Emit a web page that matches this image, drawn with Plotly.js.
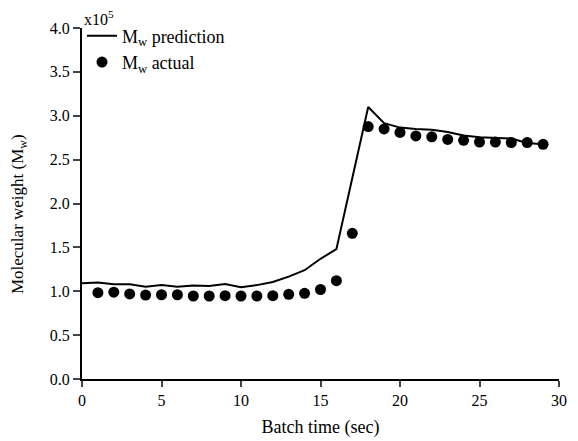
<!DOCTYPE html>
<html>
<head>
<meta charset="utf-8">
<script src="https://cdn.plot.ly/plotly-3.0.1.min.js"></script>
<style>html,body{margin:0;padding:0;background:#fff;}#chart{width:578px;height:441px;}</style>
</head>
<body>
<div id="chart"></div>
<script>
// Batch time (sec)
const predTime = [0,1,2,3,4,5,6,7,8,9,10,11,12,13,14,15,16,17,18,19,20,21,22,23,24,25,26,27,28,29];
// Mw prediction (x10^5)
const predMw = [1.09,1.10,1.08,1.08,1.05,1.07,1.05,1.065,1.06,1.083,1.045,1.07,1.105,1.167,1.24,1.37,1.48,2.28,3.10,2.915,2.865,2.85,2.84,2.816,2.775,2.755,2.75,2.74,2.69,2.675];
const actTime = [1,2,3,4,5,6,7,8,9,10,11,12,13,14,15,16,17,18,19,20,21,22,23,24,25,26,27,28,29];
// Mw actual (x10^5)
const actMw = [0.984,0.99,0.97,0.957,0.96,0.96,0.946,0.946,0.95,0.946,0.946,0.95,0.965,0.977,1.02,1.12,1.66,2.877,2.85,2.81,2.77,2.76,2.73,2.72,2.70,2.70,2.695,2.695,2.675];
const xTicks = [0,5,10,15,20,25,30];
const yTicks = [0,0.5,1.0,1.5,2.0,2.5,3.0,3.5,4.0];
const yTickText = yTicks.map(v => v.toFixed(1));

const font = {family: 'Liberation Serif, Times New Roman, serif', color: '#000'};

const traces = [
  {x: predTime, y: predMw, mode: 'lines', name: 'M<sub>w</sub> prediction',
   line: {color: '#000', width: 2}},
  {x: actTime, y: actMw, mode: 'markers', name: 'M<sub>w</sub> actual',
   marker: {color: '#000', size: 11}}
];

const layout = {
  width: 578, height: 441,
  margin: {l: 82, r: 19, t: 28, b: 62},
  paper_bgcolor: '#fff', plot_bgcolor: '#fff',
  font: Object.assign({size: 16}, font),
  showlegend: true,
  legend: {x: 0, y: 1.03, xanchor: 'left', yanchor: 'top', bgcolor: 'rgba(0,0,0,0)',
           font: Object.assign({size: 18}, font), tracegroupgap: 0},
  xaxis: {range: [0, 30], tickvals: xTicks, ticks: 'outside', ticklen: 6, tickwidth: 2,
          showline: true, linewidth: 2, linecolor: '#000', showgrid: false, zeroline: false,
          tickfont: Object.assign({size: 16}, font),
          title: {text: 'Batch time (sec)', font: Object.assign({size: 18}, font), standoff: 12}},
  yaxis: {range: [0, 4], tickvals: yTicks, ticktext: yTickText, ticks: 'outside', ticklen: 7, tickwidth: 2,
          showline: true, linewidth: 2, linecolor: '#000', showgrid: false, zeroline: false,
          tickfont: Object.assign({size: 16}, font)},
  annotations: [
    {xref: 'paper', yref: 'paper', x: 0, y: 1, xanchor: 'left', yanchor: 'bottom',
     text: 'x10<sup>5</sup>', showarrow: false, font: Object.assign({size: 16}, font), yshift: -2},
    {xref: 'paper', yref: 'paper', x: -0.132, y: 0.47, xanchor: 'center', yanchor: 'middle',
     textangle: -90, text: 'Molecular weight (M<sub>w</sub>)', showarrow: false,
     font: Object.assign({size: 17}, font)}
  ]
};

Plotly.newPlot('chart', traces, layout, {displayModeBar: false, staticPlot: true});
</script>
</body>
</html>
